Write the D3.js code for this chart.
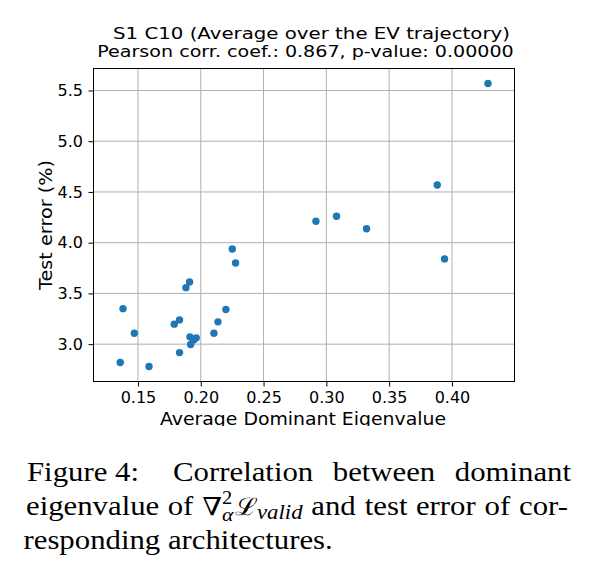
<!DOCTYPE html>
<html><head><meta charset="utf-8">
<script src="https://cdn.jsdelivr.net/npm/d3@7"></script>
<style>body{margin:0;background:#fff} svg{display:block}</style>
</head><body>
<svg id="c" width="597" height="568"></svg>
<script>
const xVals = [0.2251,0.2277,0.1911,0.1882,0.1381,0.2200,0.1831,0.1789,0.2137,0.1471,0.2105,0.1914,0.1964,0.1943,0.1919,0.1831,0.1359,0.1588,0.2917,0.3081,0.3320,0.3883,0.3941,0.4287];
const yVals = [3.938,3.800,3.613,3.557,3.350,3.341,3.239,3.197,3.220,3.108,3.108,3.072,3.062,3.042,2.996,2.917,2.819,2.780,4.211,4.260,4.138,4.568,3.840,5.569];
const xTicks = [0.15,0.20,0.25,0.30,0.35,0.40];
const yTicks = [3.0,3.5,4.0,4.5,5.0,5.5];
const titleLines = ["S1 C10 (Average over the EV trajectory)","Pearson corr. coef.: 0.867, p-value: 0.00000"];
const xLabel = "Average Dominant Eigenvalue";
const yLabel = "Test error (%)";

const svg = d3.select("#c");
const L=93.5, R=514.5, T=68.5, B=381.5;
const x = d3.scaleLinear().domain([0.1146,0.4498]).range([L,R]);
const y = d3.scaleLinear().domain([2.632,5.7165]).range([B,T]);
const FONT = "'DejaVu Sans', sans-serif";

svg.append("defs").append("clipPath").attr("id","cc")
  .append("rect").attr("x",0).attr("y",0).attr("width",597).attr("height",426);
const chart = svg.append("g").attr("clip-path","url(#cc)");

// grid
chart.append("g").selectAll("line").data(xTicks).join("line")
  .attr("x1",d=>x(d)).attr("x2",d=>x(d)).attr("y1",T).attr("y2",B)
  .attr("stroke","#b0b0b0").attr("stroke-width",1);
chart.append("g").selectAll("line").data(yTicks).join("line")
  .attr("y1",d=>y(d)).attr("y2",d=>y(d)).attr("x1",L).attr("x2",R)
  .attr("stroke","#b0b0b0").attr("stroke-width",1);

// axes
const gx = chart.append("g").attr("transform",`translate(0,${B})`)
  .call(d3.axisBottom(x).tickValues(xTicks).tickFormat(d3.format(".2f")).tickSize(5).tickSizeOuter(0).tickPadding(5.5));
const gy = chart.append("g").attr("transform",`translate(${L},0)`)
  .call(d3.axisLeft(y).tickValues(yTicks).tickFormat(d3.format(".1f")).tickSize(5).tickSizeOuter(0).tickPadding(5.5));
[gx,gy].forEach(g=>{
  g.select(".domain").remove();
  g.selectAll("text").attr("font-family",FONT).attr("font-size",16).attr("fill","#000");
  g.selectAll("line").attr("stroke","#000");
});

// points
chart.append("g").selectAll("circle").data(xVals.map((v,i)=>[v,yVals[i]])).join("circle")
  .attr("cx",d=>x(d[0])).attr("cy",d=>y(d[1])).attr("r",3.7).attr("fill","#1f77b4");

// frame
chart.append("rect").attr("x",L).attr("y",T).attr("width",R-L).attr("height",B-T)
  .attr("fill","none").attr("stroke","#000").attr("stroke-width",1);

// title
chart.append("text").attr("x",311.5).attr("y",38.5).attr("text-anchor","middle")
  .attr("font-family",FONT).attr("font-size",15.5)
  .attr("textLength",397).attr("lengthAdjust","spacingAndGlyphs").text(titleLines[0]);
chart.append("text").attr("x",305.5).attr("y",57.3).attr("text-anchor","middle")
  .attr("font-family",FONT).attr("font-size",15.5)
  .attr("textLength",416.5).attr("lengthAdjust","spacingAndGlyphs").text(titleLines[1]);

// axis labels
chart.append("text").attr("x",303).attr("y",425).attr("text-anchor","middle")
  .attr("font-family",FONT).attr("font-size",17.5)
  .attr("textLength",286).attr("lengthAdjust","spacingAndGlyphs").text(xLabel);
chart.append("text").attr("transform",`translate(52,${(T+B)/2}) rotate(-90)`).attr("text-anchor","middle")
  .attr("font-family",FONT).attr("font-size",18.5)
  .attr("textLength",130).attr("lengthAdjust","spacingAndGlyphs").text(yLabel);

// caption
const SERIF = "'Liberation Serif','Times New Roman',serif";
const FS = 27, SX = 1.14;
const cap = svg.append("g").attr("transform",`scale(${SX},1)`)
  .attr("font-family",SERIF).attr("font-size",FS).attr("fill","#000");
function word(parent, segs){
  const t = parent.append("text");
  segs.forEach(s=>{
    const ts = t.append("tspan").text(s.t);
    if(s.size) ts.attr("font-size",s.size);
    if(s.it) ts.attr("font-style","italic");
    if(s.ff) ts.attr("font-family",s.ff);
    if(s.dy) ts.attr("dy",s.dy);
    if(s.dx) ts.attr("dx",s.dx);
  });
  return t;
}
function layoutLine(words, x0, x1, yb, weights, justify){
  x0 /= SX; x1 /= SX;
  const els = words.map(w=>word(cap, typeof w==="string"?[{t:w}]:w).attr("y",yb).attr("x",0));
  const boxes = els.map(e=>e.node().getBBox());
  const widths = boxes.map(b=>b.x + b.width);
  const total = d3.sum(widths);
  const ws = weights || d3.range(words.length-1).map(()=>1);
  const gapUnit = justify ? (x1-x0-total)/d3.sum(ws) : FS*0.25;
  let cx = x0;
  els.forEach((e,i)=>{
    e.attr("x", cx);
    cx += widths[i] + (i<ws.length ? ws[i]*gapUnit : 0);
  });
}
layoutLine(["Figure 4:","Correlation","between","dominant"], 27, 571, 481, [1.8,1,1], true);
const mathWord = [
  {t:"\u2207", ff:"'DejaVu Serif',serif", size:25},
  {t:"2", size:18, dy:-11},
  {t:"\u03b1", size:19, it:true, dy:17, dx:-9},
  {t:"\u2112", ff:"'DejaVu Serif',serif", size:24, dy:-6, dx:1},
  {t:"valid", size:20, it:true, dy:4}
];
layoutLine(["eigenvalue","of",mathWord,"and","test","error","of","cor-"], 26, 568, 515, null, true);
layoutLine(["responding","architectures."], 23.5, 600, 549, null, false);
</script>
</body></html>
